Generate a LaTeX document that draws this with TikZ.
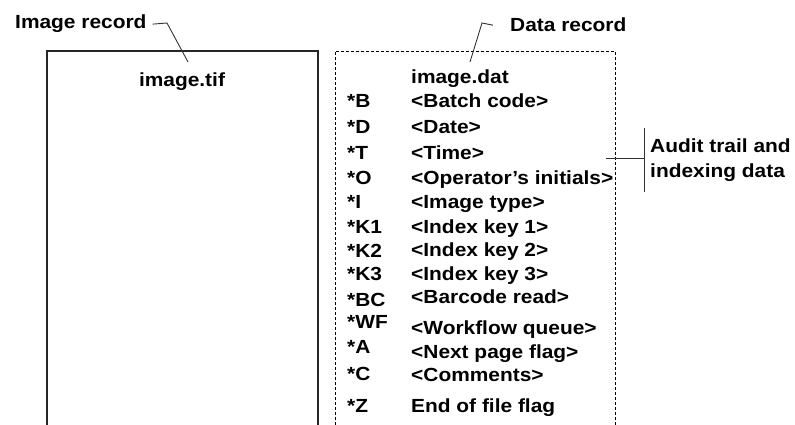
\documentclass[tikz,border=0pt]{standalone}
\usepackage{fontspec}
\setmainfont[FakeStretch=1.1]{Liberation Sans}
\usepackage{tikz}
\usetikzlibrary{positioning}
\tikzset{
    lbl/.style={font=\fontsize{19}{22}\selectfont\bfseries, inner sep=0pt, anchor=base west},
    recbox/.style={line width=1.3pt, draw=black!85},
    datbox/.style={line width=0.9pt, dash pattern=on 3pt off 2pt},
    leader/.style={line width=0.9pt, draw=black!80}
}

\begin{document}
\begin{tikzpicture}[x=1pt, y=-1pt]
        \useasboundingbox (0,0) rectangle (795,425);
        % record boxes, open at the bottom
        \draw[recbox] (47,425) -- (47,51) -- (318,51) -- (318,425);
        \draw[datbox] (335,425) -- (335,51) -- (615,51) -- (615,425);
        % titles
        \node[lbl] (imgrec) at (15,29) {Image record};
        \node[lbl] (datrec) at (510,32) {Data record};
        \node[lbl, anchor=base] (imgtif) at (182,87) {image.tif};
        \node[lbl] (imgdat) at (411,84) {image.dat};
        \coordinate (imgbend) at (167,23);
        \coordinate (imgtip) at (188,62);
        \coordinate (datbend) at (482,23);
        \coordinate (dattip) at (470,62);
        \draw[leader] ([xshift=6pt]imgrec.east) -- (imgbend) -- (imgtip);
        \draw[leader] ([xshift=-17pt]datrec.west) -- (datbend) -- (dattip);
        % data fields
        \foreach \tag/\ty/\val/\vy [count=\i] in {
            *B/108/{<Batch code>}/108,
            *D/134/{<Date>}/134,
            *T/159/{<Time>}/159,
            *O/184/{<Operator’s initials>}/184,
            *I/208/{<Image type>}/208,
            *K1/233/{<Index key 1>}/233,
            *K2/257/{<Index key 2>}/256,
            *K3/280/{<Index key 3>}/280,
            *BC/306/{<Barcode read>}/303,
            *WF/328/{<Workflow queue>}/334,
            *A/353/{<Next page flag>}/358,
            *C/380/{<Comments>}/381,
            *Z/412/{End of file flag}/412}
        {
            \node[lbl] (tag\i) at (347,\ty) {\tag};
            \node[lbl] (val\i) at (411,\vy) {\val};
        }
        % audit bracket
        \node[lbl] (audit1) at (650,153) {Audit trail and};
        \node[lbl] (audit2) at (650,177) {indexing data};
        \coordinate (brtop) at (644,128);
        \coordinate (brbot) at (644,192);
        \coordinate (brmid) at (644,158);
        \coordinate (brend) at (606,158);
        \draw[leader] (brtop) -- (brbot);
        \draw[leader] (brend) -- (brmid);
    \end{tikzpicture}
\end{document}
